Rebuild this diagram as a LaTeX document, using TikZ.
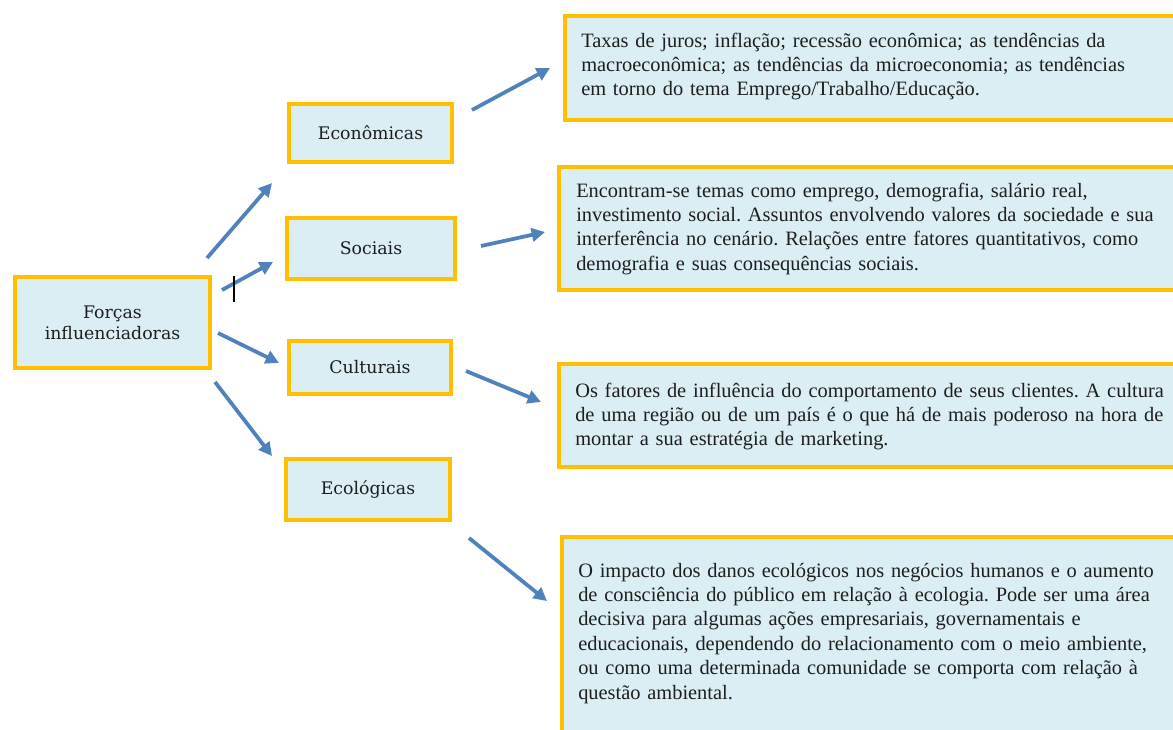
\documentclass[tikz,border=0pt]{standalone}
\usepackage{fontspec}
\setmainfont{Liberation Serif}
\newfontfamily\lblfont{DejaVu Serif}
\usetikzlibrary{arrows.meta}
\definecolor{boxfill}{HTML}{DAEEF3}
\definecolor{boxline}{HTML}{FFC000}
\definecolor{arrowblue}{HTML}{4F81BD}
\definecolor{inktext}{HTML}{1E1E1E}
\frenchspacing
\begin{document}
\begin{tikzpicture}[x=0.75pt,y=-0.75pt,
 lblbox/.style={draw=boxline, fill=boxfill, line width=3pt, inner sep=0pt, font=\lblfont\fontsize{13}{15.75}\selectfont, align=center, text=inktext},
 descbox/.style={draw=boxline, fill=boxfill, line width=3pt},
 desctext/.style={anchor=base west, inner sep=0pt, text width=620pt, align=left, font=\fontsize{15.3}{18.3}\selectfont, text=inktext},
 link/.style={draw=arrowblue, line width=2.8pt, -{Triangle[length=10pt,width=10pt]}}]
\useasboundingbox (0,0) rectangle (1173,729);
\fill[white] (0,0) rectangle (1173,729);
\clip (0,0) rectangle (1173,729);

% label boxes
\node[lblbox, minimum width=146.25pt, minimum height=68.25pt] (forcas) at (112.5,322.5) {Forças\\influenciadoras};
\node[lblbox, minimum width=122.25pt, minimum height=43.5pt] (eco) at (370.5,133) {Econômicas};
\node[lblbox, minimum width=126pt, minimum height=45.75pt] (soc) at (371,248.5) {Sociais};
\node[lblbox, minimum width=121.5pt, minimum height=39.75pt] (cul) at (370,367.5) {Culturais};
\node[lblbox, minimum width=123pt, minimum height=45.75pt] (ecol) at (368,489.5) {Ecológicas};

% description boxes
\path[descbox] (565,16) rectangle (1190,120);
\path[descbox] (559,167) rectangle (1190,290);
\path[descbox] (559,364) rectangle (1190,467);
\path[descbox] (562,537) rectangle (1190,745);

\node[desctext] (d1) at (581,47) {Taxas de juros; inflação; recessão econômica; as tendências da\\macroeconômica; as tendências da microeconomia; as tendências\\em torno do tema Emprego/Trabalho/Educação.};
\node[desctext] (d2) at (576,197) {Encontram-se temas como emprego, demografia, salário real,\\investimento social. Assuntos envolvendo valores da sociedade e sua\\interferência no cenário. Relações entre fatores quantitativos, como\\demografia e suas consequências sociais.};
\node[desctext] (d3) at (575,397) {Os fatores de influência do comportamento de seus clientes. A cultura\\de uma região ou de um país é o que há de mais poderoso na hora de\\montar a sua estratégia de marketing.};
\node[desctext] (d4) at (578,577) {O impacto dos danos ecológicos nos negócios humanos e o aumento\\de consciência do público em relação à ecologia. Pode ser uma área\\decisiva para algumas ações empresariais, governamentais e\\educacionais, dependendo do relacionamento com o meio ambiente,\\ou como uma determinada comunidade se comporta com relação à\\questão ambiental.};

% arrow end points
\coordinate (a1s) at (207,258); \coordinate (a1e) at (272,183);
\coordinate (a2s) at (222,290); \coordinate (a2e) at (273,262);
\coordinate (a3s) at (218,333); \coordinate (a3e) at (279,363);
\coordinate (a4s) at (215,382); \coordinate (a4e) at (272,456);
\coordinate (b1s) at (472,110); \coordinate (b1e) at (550,68);
\coordinate (b2s) at (481,246); \coordinate (b2e) at (545,232);
\coordinate (b3s) at (466,371); \coordinate (b3e) at (541,402);
\coordinate (b4s) at (469,538); \coordinate (b4e) at (547,601);

\draw[link] (a1s) -- (a1e);
\draw[link] (a2s) -- (a2e);
\draw[link] (a3s) -- (a3e);
\draw[link] (a4s) -- (a4e);
\draw[link] (b1s) -- (b1e);
\draw[link] (b2s) -- (b2e);
\draw[link] (b3s) -- (b3e);
\draw[link] (b4s) -- (b4e);

% text cursor mark
\coordinate (cur1) at (234,276); \coordinate (cur2) at (234,302);
\draw[black, line width=0.9pt] (cur1) -- (cur2);
\end{tikzpicture}
\end{document}
